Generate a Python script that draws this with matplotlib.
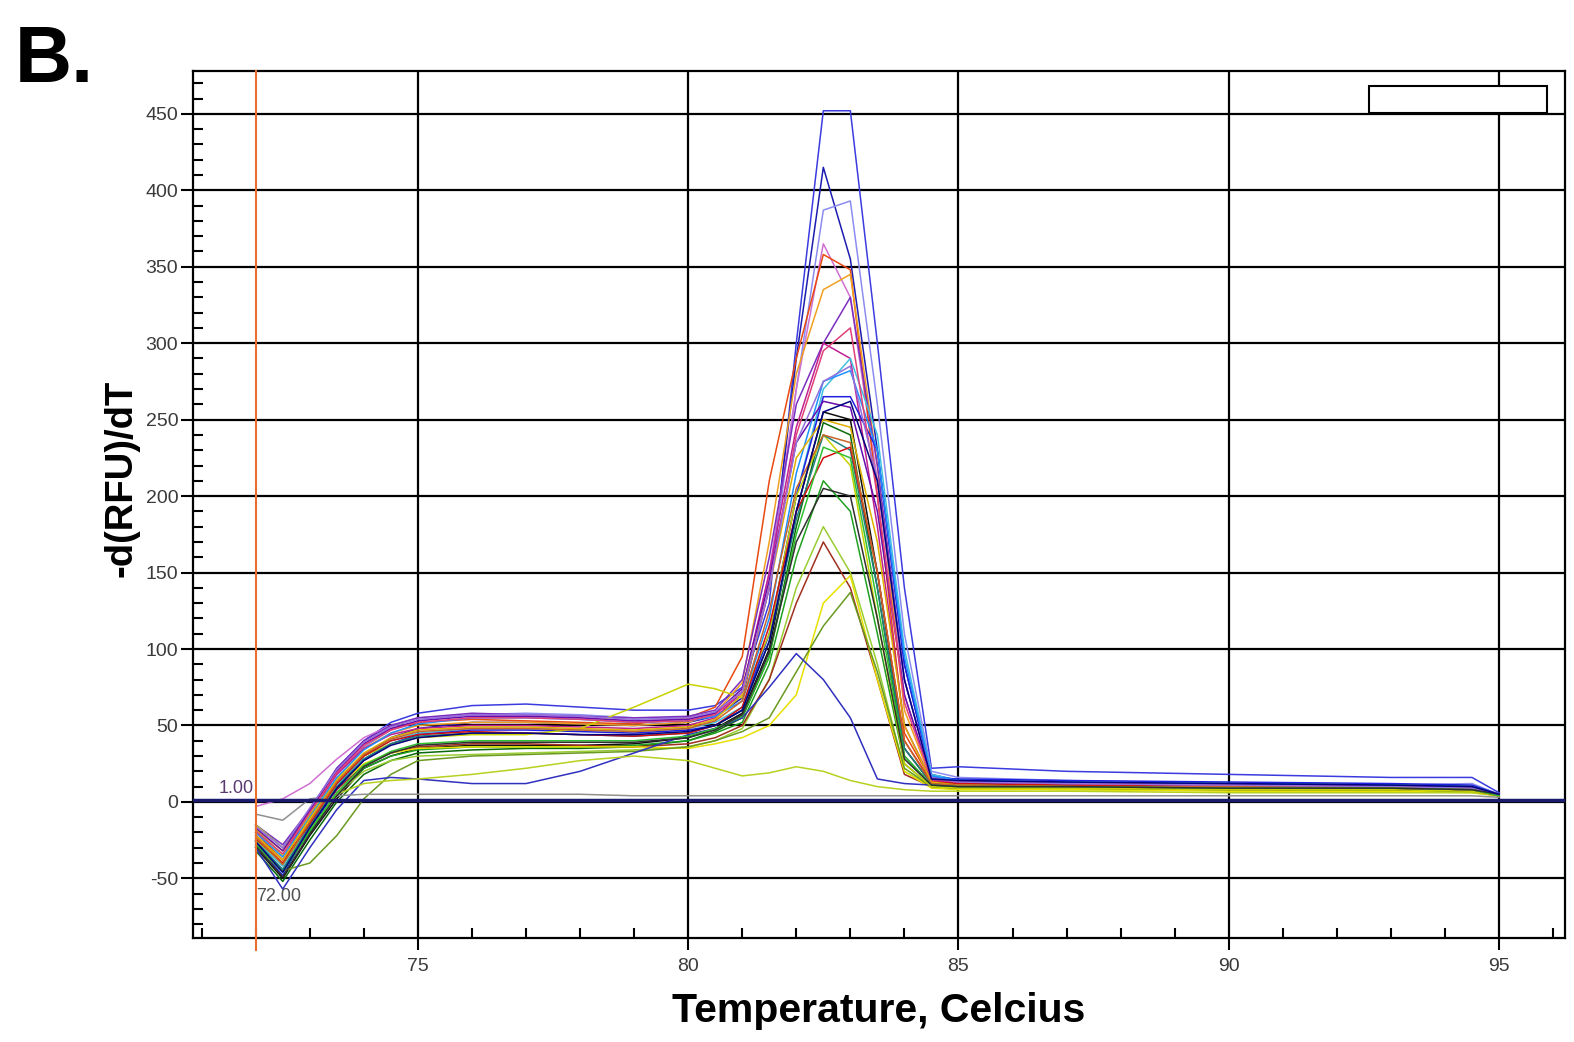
import matplotlib
matplotlib.use("Agg")
import matplotlib.pyplot as plt
from matplotlib.patches import Rectangle
from matplotlib.ticker import MultipleLocator

plt.rcParams["axes.unicode_minus"] = False

# melt curve data, -d(RFU)/dT
temp = [72, 72.5, 73, 73.5, 74, 74.5, 75, 76, 77, 78, 79, 80, 80.5, 81, 81.5,
        82, 82.5, 83, 83.5, 84, 84.5, 85, 87, 90, 93, 94.5, 95]

c01 = [-15, -30, -5, 22, 40, 52, 58, 63, 64, 62, 60, 60, 63, 75, 130, 300, 452, 452, 300, 140, 22, 23, 20, 18, 16, 16, 6]
c02 = [-25, -45, -15, 12, 30, 42, 48, 52, 52, 51, 50, 52, 56, 68, 140, 290, 415, 355, 230, 90, 18, 14, 13, 12, 11, 10, 5]
c03 = [-18, -35, -8, 18, 36, 47, 53, 57, 58, 57, 55, 55, 58, 70, 140, 270, 387, 393, 260, 110, 20, 16, 14, 12, 11, 12, 5]
c04 = [-3, 2, 12, 28, 42, 50, 55, 57, 56, 55, 53, 54, 58, 72, 150, 270, 365, 330, 210, 70, 15, 13, 12, 11, 10, 9, 5]
c05 = [-20, -38, -10, 20, 38, 48, 52, 54, 53, 52, 51, 55, 62, 95, 210, 290, 358, 348, 200, 45, 14, 12, 11, 10, 8, 7, 4]
c06 = [-22, -40, -12, 15, 35, 45, 50, 52, 52, 51, 50, 52, 58, 78, 170, 280, 335, 345, 220, 60, 14, 12, 11, 10, 9, 8, 5]
c07 = [-15, -28, -5, 22, 40, 50, 55, 58, 57, 56, 55, 56, 60, 80, 160, 260, 300, 330, 220, 80, 16, 13, 12, 11, 10, 9, 5]
c08 = [-20, -35, -8, 18, 35, 44, 48, 50, 50, 49, 48, 50, 55, 72, 150, 245, 300, 290, 180, 50, 14, 12, 11, 10, 9, 8, 5]
c09 = [-25, -42, -15, 10, 30, 40, 45, 48, 48, 47, 46, 48, 52, 62, 110, 200, 270, 290, 240, 100, 18, 14, 12, 11, 10, 9, 5]
c10 = [-28, -48, -18, 8, 28, 38, 44, 47, 47, 46, 45, 47, 50, 60, 110, 200, 265, 265, 230, 90, 16, 15, 14, 13, 12, 11, 5]
c11 = [-30, -50, -22, 2, 22, 30, 35, 37, 37, 37, 38, 42, 48, 58, 100, 190, 255, 250, 150, 35, 12, 12, 12, 12, 11, 10, 5]
c12 = [-32, -52, -25, 0, 18, 27, 32, 34, 35, 35, 36, 40, 46, 55, 95, 180, 248, 240, 140, 30, 11, 10, 10, 9, 9, 8, 5]
c13 = [-28, -45, -20, 5, 22, 30, 34, 36, 36, 36, 37, 40, 45, 52, 90, 160, 210, 190, 110, 25, 10, 9, 9, 8, 8, 7, 4]
c14 = [-25, -40, -18, 5, 20, 27, 30, 31, 32, 33, 34, 36, 40, 48, 80, 140, 180, 150, 90, 20, 10, 9, 8, 8, 7, 7, 4]
c15 = [-22, -38, -15, 8, 24, 32, 36, 38, 38, 37, 36, 38, 42, 50, 80, 130, 170, 140, 80, 18, 10, 9, 9, 8, 8, 7, 4]
c16 = [-20, -35, -12, 10, 25, 32, 35, 36, 36, 36, 36, 35, 38, 42, 50, 70, 130, 148, 80, 20, 9, 8, 8, 7, 7, 6, 4]
c17 = [-30, -45, -40, -22, 2, 18, 27, 30, 31, 32, 33, 36, 40, 46, 55, 85, 115, 137, 85, 22, 10, 9, 9, 8, 8, 7, 4]
c18 = [-30, -57, -30, -5, 14, 16, 15, 12, 12, 20, 32, 44, 48, 55, 75, 97, 80, 55, 15, 12, 11, 10, 10, 9, 9, 8, 5]
c19 = [-15, -30, -10, 5, 12, 14, 15, 18, 22, 27, 30, 27, 22, 17, 19, 23, 20, 14, 10, 8, 7, 7, 7, 6, 6, 6, 4]
c20 = [-18, -32, -8, 15, 30, 38, 42, 44, 44, 48, 62, 77, 74, 68, 110, 200, 240, 220, 120, 25, 10, 9, 9, 8, 8, 7, 4]
c21 = [-8, -12, 2, 4, 5, 5, 5, 5, 5, 5, 4, 4, 4, 4, 4, 4, 4, 4, 4, 4, 4, 4, 4, 4, 4, 4, 3]
c22 = [-26, -44, -16, 10, 28, 38, 43, 45, 45, 44, 43, 45, 50, 60, 105, 185, 240, 230, 140, 35, 12, 11, 10, 10, 9, 8, 5]
c23 = [-24, -40, -14, 12, 30, 40, 44, 46, 45, 44, 43, 45, 50, 62, 115, 190, 225, 232, 150, 40, 13, 12, 11, 10, 9, 8, 4]
c24 = [-20, -36, -10, 16, 34, 45, 51, 55, 55, 54, 52, 53, 56, 66, 120, 215, 275, 282, 230, 95, 17, 14, 13, 12, 11, 10, 5]
c25 = [-17, -32, -6, 20, 38, 48, 53, 56, 56, 55, 53, 54, 58, 74, 145, 235, 262, 258, 190, 70, 15, 13, 12, 11, 10, 9, 5]
c26 = [-22, -38, -11, 14, 32, 42, 47, 49, 49, 48, 47, 49, 54, 70, 140, 225, 250, 245, 170, 50, 13, 11, 10, 9, 9, 8, 5]
c27 = [-19, -34, -7, 19, 37, 47, 52, 55, 55, 54, 52, 53, 57, 72, 140, 240, 295, 310, 200, 65, 15, 13, 12, 11, 10, 9, 5]
c28 = [-23, -41, -13, 13, 31, 41, 46, 48, 48, 47, 46, 48, 53, 66, 125, 205, 240, 235, 150, 40, 12, 11, 10, 10, 9, 8, 4]
c29 = [-16, -30, -4, 21, 39, 49, 54, 57, 57, 56, 54, 55, 59, 72, 140, 235, 275, 285, 210, 80, 16, 13, 12, 11, 10, 9, 5]
c30 = [-27, -46, -19, 6, 24, 33, 38, 40, 40, 40, 40, 43, 48, 56, 95, 175, 232, 225, 130, 30, 11, 10, 10, 9, 9, 8, 4]
c31 = [-29, -49, -21, 4, 23, 32, 37, 39, 39, 39, 39, 42, 47, 57, 98, 170, 205, 200, 120, 28, 11, 10, 10, 9, 9, 8, 5]
c32 = [-26, -46, -17, 9, 27, 37, 42, 45, 45, 44, 44, 46, 50, 60, 105, 190, 255, 262, 210, 80, 15, 14, 13, 12, 11, 10, 5]

curves = [c01, c02, c03, c04, c05, c06, c07, c08, c09, c10, c11, c12, c13, c14, c15, c16,
          c17, c18, c19, c20, c21, c22, c23, c24, c25, c26, c27, c28, c29, c30, c31, c32]
colors = ["#3b3be0", "#1c1cb0", "#8c8cf0", "#d070d0", "#e84a10", "#f0a020", "#7b2fbf", "#c02090",
          "#40c0e0", "#2020e0", "#101010", "#0a6a0a", "#20a020", "#9acd32", "#a03020", "#e8e000",
          "#6a9a20", "#3030c0", "#b8d020", "#c8d200", "#909090", "#208080", "#d01010", "#1e90ff",
          "#6a0dad", "#e0b000", "#e0407a", "#c86428", "#9370db", "#30c030", "#303030", "#000080"]

threshold = 1.0
start_temp = 72.0

fig = plt.figure(figsize=(15.74, 10.42), dpi=100)
ax = fig.add_axes([193 / 1574, 1 - 938 / 1042, (1565 - 193) / 1574, (938 - 71) / 1042])
ax.set_xlim(70.84, 96.22)
ax.set_ylim(-89, 478)

# grid first, curves on top
for x in [75, 80, 85, 90, 95]:
    ax.axvline(x, color="black", lw=1.6, zorder=1)
for y in range(-50, 451, 50):
    ax.axhline(y, color="black", lw=1.6, zorder=1)

for vals, col in zip(curves, colors):
    ax.plot(temp, vals, color=col, lw=1.1, zorder=2)

ax.axhline(threshold, color="#1a1a6e", lw=2.5, zorder=3)
ax.plot([start_temp, start_temp], [-97, 478], color="#e8702a", lw=1.5, zorder=3, clip_on=False)
ax.text(71.97, 9, "1.00", ha="right", va="center", fontsize=13, color="#5a3a70",
        family="Liberation Sans")
ax.text(72.0, -62, "72.00", ha="left", va="center", fontsize=13, color="#505050",
        family="Liberation Sans")

# empty legend box in the corner
ax.add_patch(Rectangle((0.857, 0.9516), 0.130, 0.031, transform=ax.transAxes,
                       facecolor="white", edgecolor="black", lw=1.5, zorder=5))

ax.xaxis.set_major_locator(MultipleLocator(5))
ax.xaxis.set_minor_locator(MultipleLocator(1))
ax.yaxis.set_major_locator(MultipleLocator(50))
ax.yaxis.set_minor_locator(MultipleLocator(10))
ax.tick_params(which="major", direction="out", length=8.6, width=1.5, labelsize=14,
               labelcolor="#3a3a3a")
ax.tick_params(axis="y", which="major", pad=2)
ax.tick_params(axis="x", which="major", pad=6)
ax.tick_params(which="minor", direction="in", length=7.2, width=1.5)
for lab in ax.get_xticklabels() + ax.get_yticklabels():
    lab.set_family("Liberation Sans")
for sp in ax.spines.values():
    sp.set_linewidth(1.6)

ax.set_xlabel("Temperature, Celcius", fontsize=29.5, fontweight="bold",
              family="Liberation Sans")
ax.set_ylabel("-d(RFU)/dT", fontsize=27.5, fontweight="bold",
              family="Liberation Sans")
ax.xaxis.set_label_coords(0.5, -0.062)
ax.yaxis.set_label_coords(-0.039, 0.53)

fig.text(15 / 1574, 1 - 82 / 1042, "B.", fontsize=57, fontweight="bold",
         family="Liberation Sans", ha="left", va="baseline")

fig.savefig("out.png", dpi=100)
